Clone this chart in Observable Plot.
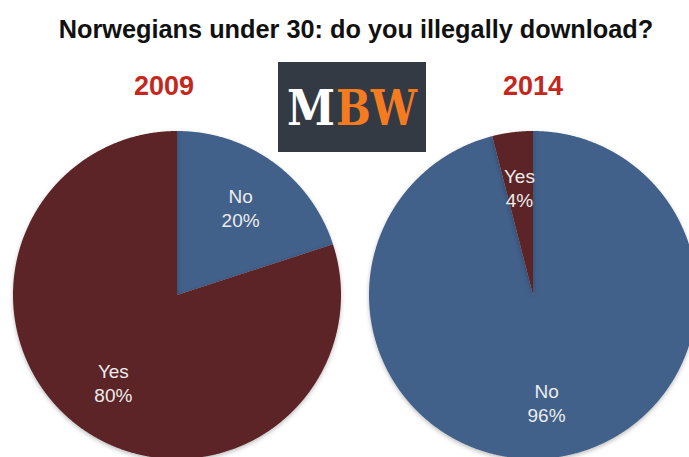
<!DOCTYPE html>
<html>
<head>
<meta charset="utf-8">
<script src="https://cdn.jsdelivr.net/npm/d3@7"></script>
<script src="https://cdn.jsdelivr.net/npm/@observablehq/plot@0.6"></script>
<style>
  html, body { margin: 0; padding: 0; background: #fff; }
  #chart { position: relative; width: 689px; height: 457px; overflow: hidden; }
</style>
</head>
<body>
<div id="chart"></div>
<script>
// ---- data ----
const title = "Norwegians under 30: do you illegally download?";
const years = ["2009", "2014"];
const answers = ["No", "Yes"];
const share2009 = [20, 80];
const share2014 = [96, 4];
const logoParts = ["M", "BW"];

// ---- layout (unit = pie radius, 164px) ----
const R = 164;
const pieOffset = {"2009": 0, "2014": 2.1707};
const yearDx = {"2009": -13, "2014": 0};
const labelRadius = 0.66;
const colors = {No: "#41608a", Yes: "#5c2427"};

const shares = {"2009": share2009, "2014": share2014};
const pie = d3.pie().sort(null).value(d => d.value);

const wedgePoints = [];
const labels = [];
for (const year of years) {
  const rows = answers.map((a, i) => ({answer: a, value: shares[year][i]}));
  const off = pieOffset[year];
  for (const arc of pie(rows)) {
    const key = year + "-" + arc.data.answer;
    wedgePoints.push({key, answer: arc.data.answer, u: off, v: 0});
    const n = Math.max(2, Math.ceil((arc.endAngle - arc.startAngle) / 0.005));
    for (let i = 0; i <= n; i++) {
      const t = arc.startAngle + (arc.endAngle - arc.startAngle) * i / n;
      wedgePoints.push({key, answer: arc.data.answer, u: off + Math.sin(t), v: Math.cos(t)});
    }
    wedgePoints.push({key, answer: arc.data.answer, u: off, v: 0});
    const mid = (arc.startAngle + arc.endAngle) / 2;
    labels.push({
      u: off + labelRadius * Math.sin(mid),
      v: labelRadius * Math.cos(mid),
      text: arc.data.answer + "\n" + arc.data.value + "%"
    });
  }
}

const chart = Plot.plot({
  width: 689,
  height: 457,
  margin: 0,
  x: {domain: [-1.0762, 3.125], axis: null},
  y: {domain: [-0.9909, 1.7957], axis: null},
  color: {domain: answers, range: answers.map(a => colors[a])},
  style: {background: "#fff", fontFamily: "'Liberation Sans', Arial, sans-serif", overflow: "hidden"},
  marks: [
    Plot.line(wedgePoints, {x: "u", y: "v", z: "key", fill: "answer", stroke: "none", clip: true}),
    Plot.text(labels, {
      x: "u", y: "v", text: "text",
      fontSize: 19, lineHeight: 1.25, fill: "#ececec",
      fontFamily: "'Liberation Sans', Arial, sans-serif"
    }),
    Plot.text([title], {
      frameAnchor: "top", dy: 20, dx: 11,
      fontSize: 25.3, fontWeight: "bold", fill: "#111"
    }),
    Plot.text(years, {
      x: d => pieOffset[d] + yearDx[d] / R,
      frameAnchor: "top", dy: 75,
      fontSize: 27, fontWeight: "bold", fill: "#c4281c"
    })
  ]
});

// soft shadow on pies
d3.select(chart).selectAll("g[aria-label=line] path")
  .style("filter", "drop-shadow(0px 2px 2px rgba(0,0,0,0.25))");

// MBW logo (decoration)
const g = d3.select(chart).append("g").attr("text-anchor", "start");
g.append("rect").attr("x", 278).attr("y", 62).attr("width", 148).attr("height", 90).attr("fill", "#333a44");
const logoSpec = [
  {text: logoParts[0], x: 287, w: 48, fill: "#ffffff"},
  {text: logoParts[1], x: 336, w: 81, fill: "#f47b20"}
];
for (const p of logoSpec) {
  g.append("text")
    .attr("x", p.x).attr("y", 125)
    .attr("text-anchor", "start")
    .attr("font-family", "'DejaVu Serif', serif")
    .attr("font-weight", "bold")
    .attr("font-size", 48)
    .attr("textLength", p.w)
    .attr("lengthAdjust", "spacingAndGlyphs")
    .attr("fill", p.fill)
    .text(p.text);
}

document.getElementById("chart").appendChild(chart);
</script>
</body>
</html>
